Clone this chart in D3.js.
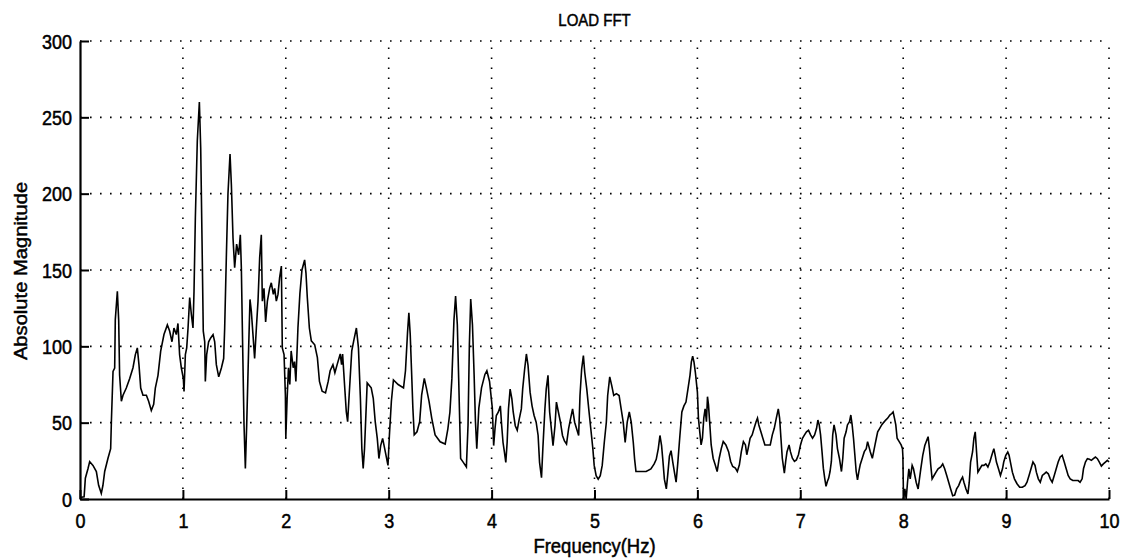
<!DOCTYPE html>
<html>
<head>
<meta charset="utf-8">
<script src="https://cdn.jsdelivr.net/npm/d3@7"></script>
<style>
  html, body { margin: 0; padding: 0; background: #fff; }
  svg { display: block; }
  text { font-family: "Liberation Sans", Arial, sans-serif; fill: #000; stroke: #000; stroke-width: 0.45px; }
</style>
</head>
<body>
<svg id="chart" width="1122" height="559"></svg>
<script>
// ---- data ----
const title = "LOAD FFT";
const xLabel = "Frequency(Hz)";
const yLabel = "Absolute Magnitude";
const xTicks = [0,1,2,3,4,5,6,7,8,9,10];
const yTicks = [0,50,100,150,200,250,300];

const freq = [
0.000,0.040,0.052,0.078,0.094,0.126,0.159,0.181,0.207,0.223,0.240,0.272,0.298,0.305,0.321,0.337,0.343,0.363,0.376,0.385,
0.402,0.418,0.450,0.483,0.515,0.538,0.557,0.573,0.590,0.612,0.645,0.667,0.693,0.716,0.732,0.758,0.784,0.816,0.849,0.871,
0.894,0.913,0.936,0.952,0.968,0.985,1.004,1.011,1.024,1.037,1.050,1.066,1.082,1.098,1.108,1.121,1.140,1.160,1.173,1.186,
1.198,1.212,1.218,1.231,1.250,1.270,1.293,1.309,1.325,1.348,1.374,1.396,1.406,1.422,1.438,1.458,1.471,1.487,1.503,1.522,
1.542,1.558,1.568,1.581,1.594,1.607,1.620,1.639,1.652,1.665,1.681,1.697,1.714,1.730,1.746,1.762,1.772,1.788,1.804,1.821,
1.843,1.859,1.879,1.892,1.908,1.924,1.940,1.957,1.966,1.983,1.996,2.000,
2.013,2.026,2.039,2.052,2.072,2.085,2.098,2.118,2.137,2.157,2.183,2.196,2.209,2.229,2.248,2.281,2.307,2.327,2.353,2.386,
2.412,2.431,2.458,2.477,2.503,2.529,2.542,2.552,2.575,2.588,2.601,2.614,2.641,2.660,2.686,2.706,2.725,2.739,2.752,2.765,
2.791,2.830,2.850,2.869,2.889,2.905,2.922,2.941,2.961,2.993,3.007,3.026,3.046,3.092,3.144,3.163,3.183,3.196,3.209,3.222,
3.235,3.248,3.275,3.301,3.320,3.346,3.366,3.392,3.418,3.451,3.500,3.549,3.575,3.595,3.614,3.634,3.650,3.667,3.680,3.699,
3.725,3.755,3.771,3.784,3.797,3.814,3.830,3.843,3.856,3.876,3.902,3.935,3.954,3.980,4.007,
4.020,4.033,4.046,4.066,4.085,4.098,4.111,4.125,4.138,4.151,4.164,4.180,4.197,4.210,4.230,4.249,4.269,4.289,4.302,4.321,
4.338,4.354,4.374,4.393,4.413,4.433,4.452,4.466,4.485,4.498,4.518,4.531,4.548,4.564,4.584,4.597,4.616,4.630,4.649,4.669,
4.689,4.708,4.728,4.748,4.767,4.787,4.807,4.826,4.846,4.859,4.875,4.892,4.905,4.925,4.944,4.964,4.984,4.997,5.016,5.036,
5.056,5.075,5.095,5.115,5.128,5.148,5.167,5.187,5.213,5.239,5.259,5.279,5.298,5.318,5.338,5.357,5.377,5.390,5.403,5.449,
5.502,5.548,5.580,5.600,5.620,5.636,5.652,5.666,5.679,5.698,5.711,5.728,5.744,5.761,5.777,5.793,5.810,5.830,5.849,5.869,
5.889,5.908,5.928,5.941,5.954,5.967,5.980,6.000,
6.010,6.023,6.036,6.049,6.062,6.075,6.088,6.098,6.108,6.121,6.134,6.153,6.173,6.192,6.212,6.232,6.251,6.277,6.303,6.323,
6.343,6.369,6.388,6.408,6.427,6.447,6.467,6.480,6.493,6.512,6.532,6.551,6.571,6.584,6.597,6.617,6.636,6.656,6.682,6.708,
6.728,6.747,6.767,6.786,6.799,6.812,6.825,6.845,6.858,6.871,6.891,6.904,6.923,6.943,6.962,6.982,7.002,7.021,7.041,7.060,
7.080,7.100,7.119,7.139,7.158,7.171,7.184,7.197,7.211,7.224,7.237,7.250,7.263,7.276,7.289,7.302,7.315,7.328,7.347,7.361,
7.380,7.400,7.413,7.426,7.445,7.458,7.478,7.491,7.504,7.517,7.530,7.543,7.556,7.569,7.582,7.602,7.622,7.641,7.654,7.667,
7.680,7.700,7.713,7.726,7.739,7.752,7.772,7.791,7.811,7.830,7.850,7.870,7.889,7.902,7.915,7.928,7.941,7.961,7.980,7.993,
7.997,8.003,8.016,8.029,8.042,8.055,8.068,8.087,8.100,8.113,8.126,8.145,8.158,8.171,8.190,8.210,8.229,8.242,8.255,8.268,
8.281,8.300,8.319,8.339,8.365,8.384,8.403,8.423,8.442,8.461,8.481,8.500,8.519,8.539,8.558,8.577,8.590,8.610,8.629,8.642,
8.655,8.674,8.687,8.700,8.713,8.726,8.745,8.765,8.784,8.803,8.823,8.842,8.861,8.881,8.894,8.906,8.926,8.945,8.965,8.977,
8.997,9.016,9.029,9.042,9.061,9.081,9.106,9.132,9.158,9.184,9.203,9.223,9.242,9.261,9.281,9.294,9.313,9.332,9.352,9.371,
9.390,9.410,9.429,9.448,9.468,9.487,9.506,9.526,9.545,9.565,9.584,9.603,9.623,9.648,9.674,9.700,9.719,9.739,9.752,9.771,
9.790,9.810,9.829,9.848,9.868,9.887,9.906,9.926,9.945,9.965,9.984,10.000
];

const magnitude = [
1,1.5,13.6,20,24.5,22,18,9,3.7,9,18,26.7,33,50.8,83.6,85.8,117.5,136,117,81,
64,68,72.7,79,86,94.6,99,88,72.7,68,68,64,58,62,72.7,81,96.8,107.7,114,110,
103,112,107.7,115,94.6,85.8,79,70.5,94.6,99,112,132,121,112,136,184,234.7,260,230,169,
110,103,77,94.6,103,105.5,107.7,103,88,80,85.8,92,112,158,200,226,206,171,151.5,167,
160,173,151.5,99,48.6,20,48.6,99,130.7,123,107.7,92,112,129.6,158,173,129.6,138,116,129.6,
138,141.6,134,138,129.6,134,145,152.6,99,94.6,68,40,
66,86,75,97,86,90,77,112,134.5,150,156.6,148,132,112,103.6,101,92.6,77,70.6,69.5,
77,84,88,82.7,89,95,88,95,70.6,57,50.7,66,97,103.6,112,99,66,33,20,33,
76,72.8,66,50.7,39.7,26.5,35,39.7,33,22,42,64,78,75,72.8,84,109,122,108,84,
59.5,42,44,50.7,68,79,72.8,64,53,42,37.5,36,46,57,79,117,133,114,79,26.5,
24,21,48.5,101,131,114,81.6,50.7,33,59.5,72.8,81.6,84,77,59.5,
35,46,54.7,57,61,48,37,30.6,24,37,59,72,65.6,57,48,45,52.5,59,72,85,
95,87.5,70,61,54.7,50.3,41.6,24,14,33,59,72,81,57,43.8,35,48,63.5,57,50.3,
41.6,38,36,46,52.5,59,50.3,46,41.6,67.8,85,94,83,72,59,46,33,22,15.3,13,
15.3,22,37,50.3,67.8,80,74.4,67.8,69,67.8,59,50.3,37,50.3,57,50.3,37,26,18,18,
18,19.7,23,26,33,41.6,35,24,13,6.6,15.3,28,31.7,24,17.5,11,24,41.6,57,61,
63.5,72,81,89.7,93.6,89.7,83,70,
53,44,35.4,39.8,53,59,50.7,67,61.5,48.5,35.4,26.7,22.4,18,26.7,33,37.6,35.4,31,24.6,
21.3,20.2,18,22.4,31,37.6,35.4,29,33,39.8,42,46.3,50.7,53,48.5,44,39.8,35.4,35.4,35.4,
42,46.3,53,59,53,39.8,26.7,17,24.6,31,35.4,31,26.7,24.6,25.6,29,35.4,39.8,42,44,
45,42,39.8,42,46.3,51.7,48.5,42,31,20.2,13.7,8.3,11.5,13.7,18,24.6,42,48.5,42,33,
26.7,18,26.7,39.8,44,48.5,50.7,55,48.5,39.8,29,18,12.6,18,22.4,26.7,31,33,37.6,34.3,
31,26.7,31,35.4,39.8,44,46.3,48.5,50.2,51.7,53,55,56,57,53,48.5,39.8,37.6,35.4,33,
28,0,6.6,0,11,19.8,13.2,22,19.8,15.4,11,6.6,13.2,19.8,28.6,35,38.5,40.8,33,22,
13.2,15.4,17.6,19.8,21,23,19.8,15.4,11,6.6,2.2,2.6,6.6,8.8,12,14.3,11,6.6,3.3,11,
24.2,30.8,39.7,44,30.8,17.6,19.8,22,22,23,21,24.2,28.6,33,28.6,24.2,19.8,15.4,19.8,24.2,
28.6,30.8,28.6,24.2,17.6,13.2,10,7.7,7.7,8.8,11,15.4,19.8,24.2,22,17.6,13.2,11,15.4,16.5,
17.6,16.5,13.2,11,15.4,19.8,24.2,27.5,28.6,24.2,19.8,15.4,13.2,12.1,12.1,12.1,11,13.2,19.8,24.2,
26.4,26,25.3,26.4,27.5,26.4,24.2,21.6,23,24.2,25.3,24.2
];

// ---- drawing ----
const svg = d3.select("#chart");
const plotLeft = 80, plotRight = 1109, plotTop = 41, plotBottom = 499;
const stretch = 1.12; // scanned text is slightly taller than wide

const x = d3.scaleLinear().domain([0, 10]).range([plotLeft, plotRight]);
const y = d3.scaleLinear().domain([0, 300]).range([plotBottom, plotTop]);

const data = freq.map((f, i) => ({ f: f, m: magnitude[i] }));

// dotted grid
const grid = svg.append("g")
  .attr("stroke", "#000")
  .attr("stroke-width", 1.6)
  .attr("stroke-dasharray", "1.6,8.4")
  .attr("fill", "none");
grid.selectAll("line.v").data(xTicks.filter(d => d > 0)).enter().append("line")
  .attr("class", "v")
  .attr("x1", d => x(d)).attr("x2", d => x(d))
  .attr("y1", plotBottom).attr("y2", plotTop);
grid.selectAll("line.h").data(yTicks.filter(d => d > 0)).enter().append("line")
  .attr("class", "h")
  .attr("x1", plotLeft).attr("x2", plotRight)
  .attr("y1", d => y(d)).attr("y2", d => y(d));

// axes
const xAxis = d3.axisBottom(x).tickValues(xTicks).tickFormat(d3.format("d"))
  .tickSizeInner(-9).tickSizeOuter(0).tickPadding(14);
const yAxis = d3.axisLeft(y).tickValues(yTicks).tickFormat(d3.format("d"))
  .tickSizeInner(-9).tickSizeOuter(0).tickPadding(8);

const gx = svg.append("g").attr("transform", `translate(0,${plotBottom})`).call(xAxis);
const gy = svg.append("g").attr("transform", `translate(${plotLeft},0)`).call(yAxis);
[gx, gy].forEach(g => {
  g.select(".domain").attr("stroke", "#000").attr("stroke-width", 2.2);
  g.selectAll(".tick line").attr("stroke", "#000").attr("stroke-width", 2);
  g.selectAll(".tick text")
    .style("font-family", "'Liberation Sans', Arial, sans-serif")
    .style("font-size", "18px").attr("fill", "#000");
});
gx.selectAll(".tick text")
  .attr("y", 0).attr("dy", 0)
  .attr("transform", `translate(0,29) scale(1,${stretch})`);
gy.selectAll(".tick text")
  .attr("x", 0).attr("dy", 0)
  .attr("transform", `translate(-8,7) scale(1,${stretch})`);

// line
const line = d3.line().x(d => x(d.f)).y(d => y(d.m));
svg.append("path").datum(data)
  .attr("d", line)
  .attr("fill", "none")
  .attr("stroke", "#000")
  .attr("stroke-width", 1.6)
  .attr("stroke-linejoin", "miter");

// texts
svg.append("text")
  .attr("transform", `translate(${(plotLeft + plotRight) / 2},26) scale(1,${stretch})`)
  .attr("text-anchor", "middle").style("font-size", "15px").text(title);
svg.append("text")
  .attr("transform", `translate(${(plotLeft + plotRight) / 2},553) scale(1,${stretch})`)
  .attr("text-anchor", "middle").style("font-size", "18.5px").text(xLabel);
svg.append("text")
  .attr("transform", `translate(27,271) rotate(-90) scale(${stretch},1)`)
  .attr("text-anchor", "middle").style("font-size", "18px").text(yLabel);
</script>
</body>
</html>
